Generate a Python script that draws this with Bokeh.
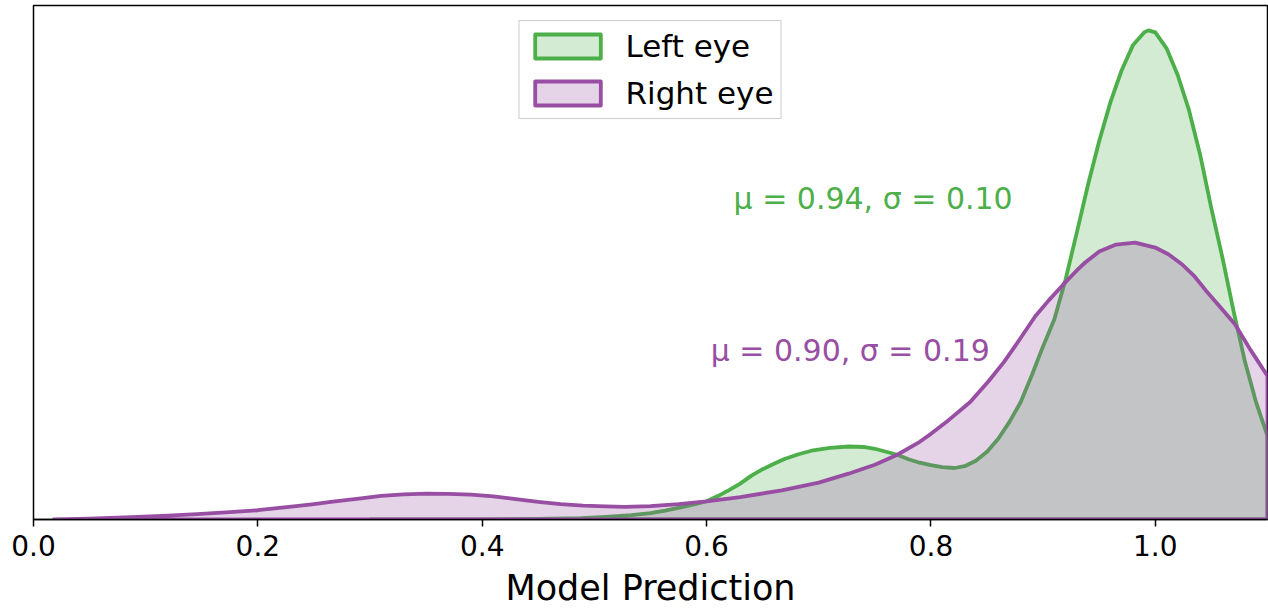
from bokeh.plotting import figure
from bokeh.models import (Legend, LegendItem, Label, FixedTicker,
                          PrintfTickFormatter, Range1d)
from bokeh.embed import file_html
from bokeh.resources import INLINE

GREEN = "#4daf4a"
PURPLE = "#984ea3"

# Left eye KDE (model prediction, density)
left_x = [0.30, 0.35, 0.40, 0.45, 0.488, 0.51, 0.533, 0.55, 0.563, 0.58,
          0.59, 0.60, 0.61, 0.62, 0.63, 0.64, 0.65, 0.66, 0.67, 0.682,
          0.695, 0.71, 0.7265, 0.74, 0.75, 0.76, 0.77, 0.78, 0.79, 0.80,
          0.81, 0.821, 0.83, 0.84, 0.85, 0.86, 0.87, 0.88, 0.89, 0.90,
          0.91, 0.92, 0.93, 0.94, 0.95, 0.96, 0.97, 0.98, 0.99, 0.9938,
          1.00, 1.01, 1.02, 1.03, 1.04, 1.05, 1.06, 1.07, 1.08, 1.09, 1.10]
left_y = [0.0, 0.001, 0.002, 0.005, 0.013, 0.025, 0.043, 0.065, 0.09, 0.13,
          0.155, 0.183, 0.235, 0.295, 0.36, 0.44, 0.505, 0.56, 0.61, 0.655,
          0.695, 0.72, 0.733, 0.728, 0.71, 0.68, 0.65, 0.605, 0.57, 0.545,
          0.525, 0.517, 0.535, 0.59, 0.68, 0.81, 0.98, 1.18, 1.45, 1.74,
          2.01, 2.41, 2.88, 3.36, 3.80, 4.19, 4.51, 4.76, 4.89, 4.91,
          4.89, 4.73, 4.46, 4.11, 3.66, 3.12, 2.62, 2.08, 1.58, 1.17, 0.84]

# Right eye KDE
right_x = [0.018, 0.05, 0.087, 0.12, 0.146, 0.175, 0.20, 0.23, 0.25, 0.265,
           0.29, 0.31, 0.33, 0.35, 0.37, 0.39, 0.41, 0.43, 0.45, 0.47,
           0.49, 0.51, 0.527, 0.55, 0.575, 0.60, 0.63, 0.667, 0.70, 0.7265,
           0.75, 0.77, 0.79, 0.80, 0.816, 0.835, 0.8515, 0.865, 0.875, 0.893,
           0.905, 0.918, 0.93, 0.9375, 0.95, 0.965, 0.982, 1.0, 1.012, 1.024,
           1.035, 1.045, 1.058, 1.071, 1.085, 1.10]
right_y = [0.002, 0.009, 0.023, 0.038, 0.053, 0.073, 0.093, 0.13, 0.155, 0.177,
           0.21, 0.237, 0.253, 0.26, 0.258, 0.25, 0.233, 0.205, 0.177, 0.155,
           0.14, 0.131, 0.127, 0.135, 0.155, 0.183, 0.225, 0.293, 0.37, 0.46,
           0.55, 0.65, 0.78, 0.86, 1.00, 1.18, 1.39, 1.58, 1.74, 2.04,
           2.20, 2.36, 2.50, 2.58, 2.69, 2.76, 2.78, 2.73, 2.66, 2.56,
           2.44, 2.30, 2.13, 1.96, 1.70, 1.44]

series_labels = ["Left eye", "Right eye"]
stats_text = ["\u03bc = 0.94, \u03c3 = 0.10", "\u03bc = 0.90, \u03c3 = 0.19"]
stats_pos_x = [0.624, 0.6036]
stats_pos_y = [3.22, 1.70]
x_ticks = [0.0, 0.2, 0.4, 0.6, 0.8, 1.0]

FONT = "DejaVu Sans"

p = figure(width=1268, height=610, x_range=Range1d(0, 1.1), y_range=Range1d(0, 5.16),
           output_backend="svg", toolbar_location=None,
           min_border_left=33, min_border_right=1, min_border_top=5, min_border_bottom=0)
p.grid.visible = False
p.yaxis.visible = False
p.outline_line_color = "black"
p.outline_line_width = 1.5
p.outline_line_alpha = 1.0
p.background_fill_color = "white"

renderers = []
for xs, ys, col in [(left_x, left_y, GREEN), (right_x, right_y, PURPLE)]:
    px = list(xs) + [xs[-1], xs[0]]
    py = list(ys) + [0.0, 0.0]
    r = p.patch(px, py, fill_color=col, fill_alpha=0.25, line_color=col,
                line_width=3.8, line_join="round")
    renderers.append(r)

for txt, tx, ty, col in zip(stats_text, stats_pos_x, stats_pos_y, [GREEN, PURPLE]):
    p.add_layout(Label(x=tx, y=ty, text=txt, text_color=col, text_font=FONT,
                       text_font_size="30px", text_baseline="middle", text_align="left"))

ax = p.xaxis[0]
ax.ticker = FixedTicker(ticks=x_ticks)
ax.formatter = PrintfTickFormatter(format="%.1f")
ax.minor_tick_line_color = None
ax.major_tick_in = 0
ax.major_tick_out = 7
ax.major_tick_line_width = 1.5
ax.axis_line_width = 1.5
ax.major_label_text_font = FONT
ax.major_label_text_font_size = "28px"
ax.major_label_text_color = "black"
ax.major_label_standoff = 8
ax.axis_label = "Model Prediction"
ax.axis_label_text_font = FONT
ax.axis_label_text_font_size = "35px"
ax.axis_label_text_font_style = "normal"
ax.axis_label_text_color = "black"
ax.axis_label_standoff = 9

legend = Legend(items=[LegendItem(label=l, renderers=[r]) for l, r in zip(series_labels, renderers)],
                location="top_center", margin=15, padding=7,
                glyph_width=82, glyph_height=30, label_standoff=17, spacing=11,
                label_text_font=FONT, label_text_font_size="31px", label_text_color="black",
                border_line_color="#cccccc", border_line_width=1.5, border_line_alpha=1.0,
                background_fill_alpha=1.0)
p.add_layout(legend)

open("out.html", "w").write(file_html(p, INLINE))
